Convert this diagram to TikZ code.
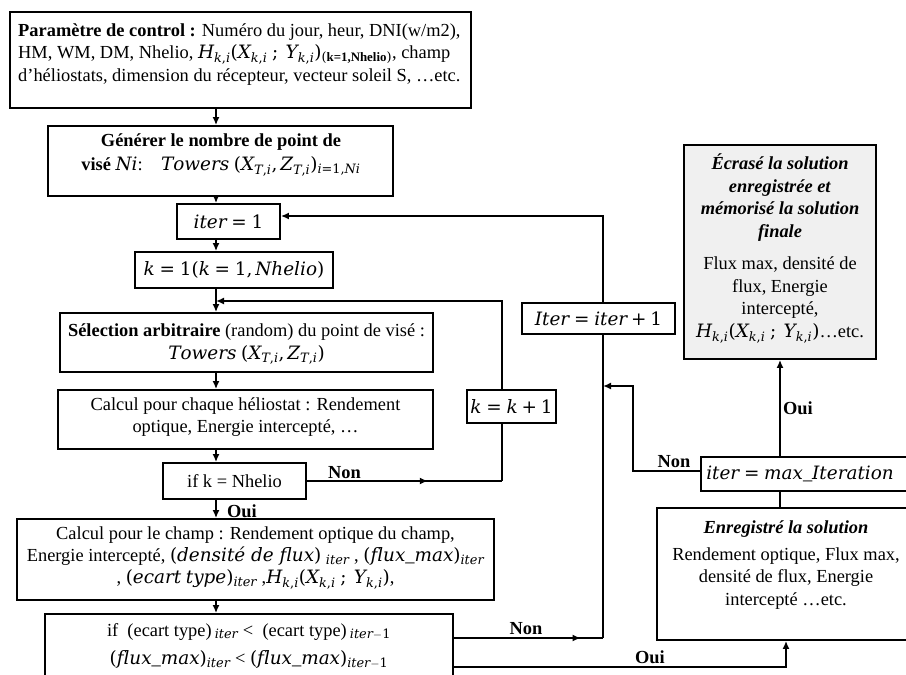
\documentclass[tikz,border=0pt]{standalone}
\usepackage{amsmath}
\usepackage[no-math]{fontspec}
\setmainfont{Liberation Serif}
\newfontfamily\mlfont{DejaVu Serif}[NFSSFamily=mlet]
\DeclareSymbolFont{letters}{TU}{mlet}{m}{it}
\DeclareSymbolFont{operators}{TU}{mlet}{m}{n}
\DeclareMathSymbol{,}{\mathpunct}{operators}{"2C}
\usetikzlibrary{arrows.meta,decorations.markings,calc}
\newcommand\bi[1]{\textbf{\textit{#1}}}
\newcommand\mtx[1]{{\mlfont\itshape #1}}
\tikzset{
  box/.style={draw, line width=1.8pt, inner sep=0pt},
  txt/.style={inner sep=0pt, align=center, font=\fontsize{18.4}{22.5}\selectfont},
  conn/.style={line width=1.8pt},
  arr/.style={conn, -{Latex[length=8pt,width=7pt]}},
  midarrow/.style={conn, decoration={markings, mark=at position #1 with {\arrow{Latex[length=8pt,width=7pt]}}}, postaction={decorate}},
  lab/.style={inner sep=0pt, font=\fontsize{18.4}{22}\selectfont\bfseries},
}
\begin{document}
\begin{tikzpicture}[x=1pt,y=-1pt]
\useasboundingbox (0,0) rectangle (906,675);
\clip (0,0) rectangle (906,675);
% ---------- boxes ----------
\node[box, minimum width=461pt, minimum height=96pt] (b1) at (240.5,60) {};
\node[box, minimum width=345pt, minimum height=70pt] (b2) at (220.5,161) {};
\node[box, minimum width=103pt, minimum height=35pt] (iter) at (228.5,221.5) {};
\node[box, minimum width=198pt, minimum height=36pt] (kb) at (234,270) {};
\node[box, minimum width=373pt, minimum height=59pt] (sel) at (246.5,342.5) {};
\node[box, minimum width=375pt, minimum height=59pt] (c1) at (245.5,419.5) {};
\node[box, minimum width=143pt, minimum height=36pt] (ifk) at (234.5,481) {};
\node[box, minimum width=477pt, minimum height=81pt] (champ) at (255.5,559.5) {};
\node[box, minimum width=408pt, minimum height=86pt] (ecart) at (249,657) {};
\node[box, minimum width=89pt, minimum height=33pt] (kk) at (511.5,406.5) {};
\node[box, minimum width=153pt, minimum height=31pt] (Iter) at (598.5,318.5) {};
\node[box, fill=gray!12, minimum width=192pt, minimum height=214pt] (Ecr) at (780,252) {};
\node[box, minimum width=214pt, minimum height=34pt] (max) at (808,474) {};
\node[box, minimum width=258pt, minimum height=132pt] (Enreg) at (786,574) {};
% ---------- texts ----------
\node[txt, align=left, anchor=west] (t1) at (18,54.5) {\textbf{Paramètre de control :} Numéro du jour, heur, DNI(w/m2),\\
HM, WM, DM, Nhelio, $H_{k,i}(X_{k,i}\ ;\ Y_{k,i})_{(\textbf{k=1,Nhelio})}$, champ\\
d’héliostats, dimension du récepteur, vecteur soleil S, …etc.};
\node[txt, font=\fontsize{18.4}{24}\selectfont] (t2) at (221,155) {\textbf{Générer le nombre de point de}\\
\textbf{visé} $Ni$:\quad $Towers\ (X_{T,i},Z_{T,i})_{i=1,Ni}$};
\node[txt] (titer) at (228.5,221.5) {$iter=1$};
\node[txt] (tk) at (234,270) {$k=1(k=1,Nhelio)$};
\node[txt] (tsel) at (246.5,344) {\textbf{Sélection arbitraire} (random) du point de visé :\\
$Towers\ (X_{T,i},Z_{T,i})$};
\node[txt] (tc1) at (245.5,417) {Calcul pour chaque héliostat : Rendement\\ optique, Energie intercepté, …};
\node[txt] (tifk) at (234.5,481) {if k = Nhelio};
\node[txt, font=\fontsize{18.4}{22}\selectfont] (tchamp) at (255.5,558) {Calcul pour le champ : Rendement optique du champ,\\
Energie intercepté, $($\mtx{densité de flux}$)_{\ iter}$ , $(flux\_max)_{iter}$\\
, $(ecart\ type)_{iter}$ ,$H_{k,i}(X_{k,i}\ ;\ Y_{k,i})$,};
\node[txt] (tecart) at (249,646) {if\ \ (ecart type)\,$_{iter}$ <\ \ (ecart type)\,$_{iter-1}$\\[6pt]
$(flux\_max)_{iter}$ < $(flux\_max)_{iter-1}$};
\node[txt] (tkk) at (511.5,406.5) {$k=k+1$};
\node[txt] (tIter) at (598.5,318.5) {$Iter=iter+1$};
\node[txt] (tEcr) at (780,248.5) {\bi{Écrasé la solution}\\ \bi{enregistrée et}\\ \bi{mémorisé la solution}\\ \bi{finale}\\[10pt]
Flux max, densité de\\ flux, Energie\\ intercepté,\\ $H_{k,i}(X_{k,i}\ ;\ Y_{k,i})$…etc.};
\node[txt] (tmax) at (800,474) {$iter=max\_Iteration$};
\node[txt] (tEnreg) at (786,565) {\bi{Enregistré la solution}\\[4pt]
Rendement optique, Flux max,\\ densité de flux, Energie\\ intercepté …etc.};
% ---------- labels ----------
\node[lab] (non1) at (344.5,473) {Non};
\node[lab] (oui1) at (242,511) {Oui};
\node[lab] (non2) at (526,629) {Non};
\node[lab] (oui2) at (650,657) {Oui};
\node[lab] (non3) at (674,462) {Non};
\node[lab] (oui3) at (798,408) {Oui};
% ---------- connectors ----------
\coordinate (col) at (216,0);
\draw[arr] (col |- b1.south) -- (col |- b2.north);
\draw[arr] (col |- b2.south) -- (col |- iter.north);
\draw[arr] (col |- iter.south) -- (col |- kb.north);
\draw[arr] (col |- kb.south) -- (col |- sel.north);
\draw[arr] (col |- sel.south) -- (col |- c1.north);
\draw[arr] (col |- c1.south) -- (col |- ifk.north);
\draw[arr] (col |- ifk.south) -- (col |- champ.north);
\draw[arr] (col |- champ.south) -- (col |- ecart.north);
% k loop
\coordinate (kx) at (502,0);
\coordinate (kloop) at (216,301);
\draw[midarrow=0.62] (ifk.east) -- (kx |- ifk.east);
\draw[conn] (kx |- ifk.east) -- (kx |- kk.south);
\draw[arr] (kx |- kk.north) |- (kloop);
% iter loop
\coordinate (ix) at (603,0);
\draw[arr] (ix |- Iter.north) |- ($(iter.east)+(0,-5.5)$);
\coordinate (enon) at (603,638);
\draw[midarrow=0.85] (ecart.east |- enon) -- (enon);
\draw[conn] (enon) -- (ix |- Iter.south);
\coordinate (mx) at (633,386);
\draw[arr] ($(max.west)+(0,-3)$) -| (mx) -- (ix |- mx);
% right column
\draw[arr] (Ecr.south |- max.north) -- (Ecr.south);
\draw[conn] (Ecr.south |- Enreg.north) -- (Ecr.south |- max.south);
\coordinate (eoui) at (786,667);
\draw[arr] (ecart.east |- eoui) -| (Enreg.south);
\end{tikzpicture}
\end{document}
